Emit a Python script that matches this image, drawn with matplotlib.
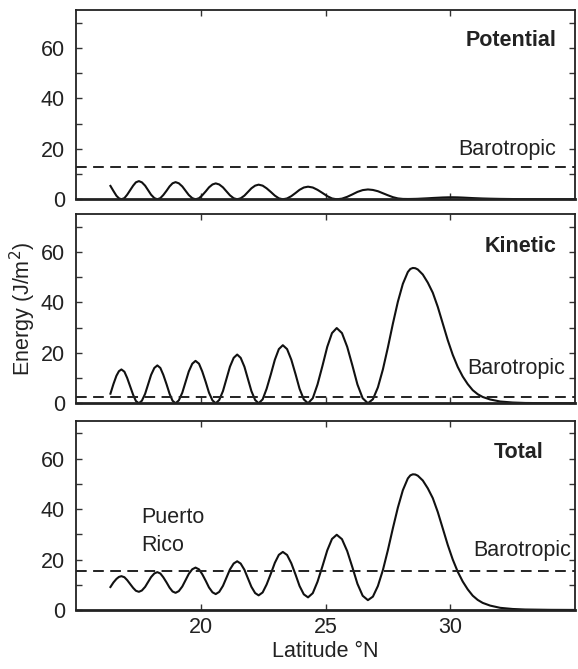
import matplotlib
matplotlib.use("Agg")
import matplotlib.pyplot as plt
from matplotlib.ticker import MultipleLocator

plt.rcParams['font.family'] = ['Liberation Sans', 'DejaVu Sans']

# ---------------- data ----------------
latitude = [16.38, 16.50, 16.62, 16.72, 16.82, 16.94, 17.05, 17.17, 17.29, 17.40,
            17.52, 17.64, 17.77, 17.89, 18.01, 18.14, 18.26, 18.38, 18.50, 18.63,
            18.75, 18.87, 18.99, 19.12, 19.26, 19.39, 19.52, 19.66, 19.79, 19.93,
            20.06, 20.20, 20.33, 20.47, 20.60, 20.74, 20.89, 21.03, 21.17, 21.32,
            21.46, 21.60, 21.75, 21.89, 22.03, 22.18, 22.32, 22.48, 22.64, 22.81,
            22.97, 23.13, 23.29, 23.46, 23.63, 23.80, 23.96, 24.13, 24.30, 24.49,
            24.68, 24.88, 25.07, 25.26, 25.45, 25.66, 25.87, 26.08, 26.28, 26.49,
            26.70, 26.90, 27.10, 27.30, 27.50, 27.70, 27.90, 28.10, 28.30, 28.40,
            28.50, 28.60, 28.70, 28.90, 29.10, 29.30, 29.50, 29.70, 29.90, 30.10,
            30.30, 30.50, 30.70, 30.90, 31.10, 31.30, 31.60, 32.00, 32.50, 33.00,
            34.00, 35.00]

potential = [5.3, 3.3, 1.4, 0.4, 0.0, 0.48, 1.8, 3.6, 5.4, 6.72,
             7.2, 6.72, 5.4, 3.6, 1.8, 0.48, 0.0, 0.46, 1.7, 3.4,
             5.1, 6.34, 6.8, 6.34, 5.1, 3.4, 1.7, 0.46, 0.0, 0.42,
             1.58, 3.15, 4.73, 5.88, 6.3, 5.88, 4.73, 3.15, 1.58, 0.42,
             0.0, 0.39, 1.45, 2.9, 4.35, 5.41, 5.8, 5.41, 4.35, 2.9,
             1.45, 0.39, 0.0, 0.34, 1.25, 2.5, 3.75, 4.67, 5.0, 4.67,
             3.75, 2.5, 1.25, 0.34, 0.0, 0.26, 0.98, 1.95, 2.93, 3.64,
             3.9, 3.7, 3.2, 2.4, 1.6, 0.85, 0.35, 0.15, 0.12, 0.13,
             0.15, 0.17, 0.2, 0.3, 0.4, 0.52, 0.62, 0.72, 0.78, 0.8,
             0.76, 0.68, 0.58, 0.48, 0.4, 0.32, 0.24, 0.16, 0.1, 0.07,
             0.03, 0.02]

kinetic = [3.8, 7.6, 10.9, 12.7, 13.4, 12.5, 10.05, 6.7, 3.35, 0.9,
           0.0, 1.0, 3.75, 7.5, 11.25, 14.0, 15.0, 14.0, 11.25, 7.5,
           3.75, 1.0, 0.0, 1.13, 4.2, 8.4, 12.6, 15.67, 16.8, 15.67,
           12.6, 8.4, 4.2, 1.13, 0.0, 1.29, 4.83, 9.65, 14.48, 18.0,
           19.3, 18.0, 14.48, 9.65, 4.83, 1.29, 0.0, 1.54, 5.75, 11.5,
           17.25, 21.46, 23.0, 21.46, 17.25, 11.5, 5.75, 1.54, 0.0, 2.0,
           7.45, 14.9, 22.35, 27.8, 29.8, 27.8, 22.35, 14.9, 7.45, 2.0,
           0.0, 1.6, 6.3, 13.4, 22.1, 31.5, 40.2, 47.3, 52.0, 53.2,
           53.6, 53.5, 53.0, 51.0, 47.8, 43.8, 38.2, 31.6, 25.0, 19.2,
           14.4, 10.6, 7.6, 5.2, 3.6, 2.5, 1.5, 0.7, 0.3, 0.12,
           0.03, 0.0]

total = [9.1, 10.9, 12.3, 13.1, 13.4, 12.98, 11.85, 10.3, 8.75, 7.62,
         7.2, 7.72, 9.15, 11.1, 13.05, 14.48, 15.0, 14.46, 12.95, 10.9,
         8.85, 7.34, 6.8, 7.47, 9.3, 11.8, 14.3, 16.13, 16.8, 16.09,
         14.18, 11.55, 8.93, 7.01, 6.3, 7.17, 9.56, 12.8, 16.06, 18.42,
         19.3, 18.39, 15.93, 12.55, 9.18, 6.7, 5.8, 6.95, 10.1, 14.4,
         18.7, 21.85, 23.0, 21.8, 18.5, 14.0, 9.5, 6.21, 5.0, 6.67,
         11.2, 17.4, 23.6, 28.14, 29.8, 28.06, 23.33, 16.85, 10.38, 5.64,
         3.9, 5.3, 9.5, 15.8, 23.7, 32.35, 40.55, 47.45, 52.12, 53.33,
         53.75, 53.67, 53.2, 51.3, 48.2, 44.32, 38.82, 32.32, 25.78, 20.0,
         15.16, 11.28, 8.18, 5.68, 4.0, 2.82, 1.74, 0.86, 0.4, 0.19,
         0.06, 0.02]

barotropic = {'Potential': 12.7, 'Kinetic': 2.6, 'Total': 15.3}
panel_names = ['Potential', 'Kinetic', 'Total']
x_ticks = [20, 25, 30]
y_ticks = [0, 20, 40, 60]

# ---------------- figure ----------------
fig = plt.figure(figsize=(5.78, 6.69), dpi=100)
left, width, height = 0.1315, 0.8633, 0.283
bottoms = [0.7021, 0.3972, 0.0882]
series = [potential, kinetic, total]
text_color = '#222222'
fs = 15.5

axes = []
for name, vals, b in zip(panel_names, series, bottoms):
    ax = fig.add_axes([left, b, width, height])
    axes.append(ax)
    ax.plot(latitude, vals, color='#111111', lw=1.5, solid_joinstyle='round')
    ax.axhline(barotropic[name], color='#222222', lw=1.4, ls=(0, (5.5, 3.3)))
    ax.set_xlim(15, 35)
    ax.set_ylim(0, 75)
    ax.set_xticks(x_ticks)
    ax.set_yticks(y_ticks)
    ax.yaxis.set_minor_locator(MultipleLocator(10))
    ax.tick_params(which='both', direction='in', top=True, right=True,
                   length=4, width=1.0, color='#333333',
                   labelsize=fs, labelcolor=text_color)
    ax.tick_params(axis='y', which='both', pad=8)
    ax.tick_params(axis='x', which='both', pad=5)
    ax.tick_params(axis='x', which='minor', top=False, bottom=False)
    for s in ax.spines.values():
        s.set_linewidth(1.3)
        s.set_color('#222222')
    ax.spines['bottom'].set_linewidth(2.0)
    if name != 'Total':
        ax.tick_params(axis='x', labelbottom=False)

# panel titles and labels
axes[0].text(34.25, 63, 'Potential', ha='right', va='center', fontsize=fs,
             fontweight='bold', color=text_color)
axes[0].text(34.25, 19.6, 'Barotropic', ha='right', va='center', fontsize=fs,
             color=text_color)
axes[1].text(34.25, 62.3, 'Kinetic', ha='right', va='center', fontsize=fs,
             fontweight='bold', color=text_color)
axes[1].text(34.6, 13.7, 'Barotropic', ha='right', va='center', fontsize=fs,
             color=text_color)
axes[2].text(33.75, 62.5, 'Total', ha='right', va='center', fontsize=fs,
             fontweight='bold', color=text_color)
axes[2].text(34.85, 23.5, 'Barotropic', ha='right', va='center', fontsize=fs,
             color=text_color)
axes[2].text(17.6, 36.6, 'Puerto', ha='left', va='center', fontsize=fs,
             color=text_color)
axes[2].text(17.6, 25.7, 'Rico', ha='left', va='center', fontsize=fs,
             color=text_color)

axes[1].set_ylabel('Energy (J/m$^2$)', fontsize=fs, color=text_color, labelpad=2)
axes[2].set_xlabel('Latitude \u00b0N', fontsize=fs, color=text_color, labelpad=2)

fig.savefig('out.png', dpi=100)
